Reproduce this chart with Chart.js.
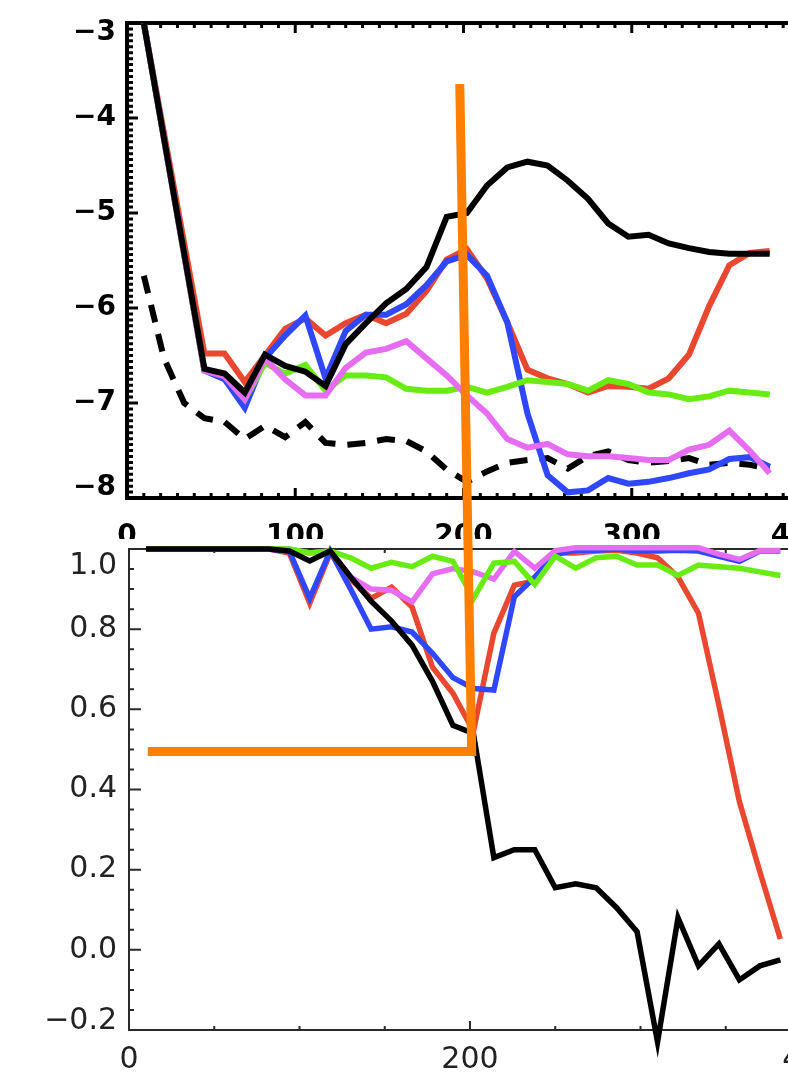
<!DOCTYPE html>
<html>
<head>
<meta charset="utf-8">
<script src="https://cdn.jsdelivr.net/npm/chart.js@4.4.1/dist/chart.umd.min.js"></script>
<style>
  html, body { margin: 0; padding: 0; background: #fff; overflow: hidden; }
  #wrap { position: relative; width: 788px; height: 1073px; overflow: hidden; }
  #topChart { position: absolute; left: 0; top: -10px; }
  #bottomChart { position: absolute; left: 0; top: 0; }
</style>
</head>
<body>
<div id="wrap">
  <canvas id="topChart" width="870" height="549"></canvas>
  <canvas id="bottomChart" width="881" height="1073"></canvas>
</div>
<script>
// sample positions (shared by both panels)
const xs = [10, 22, 34, 46, 58, 70, 82, 94, 106, 118, 130, 142, 154, 166, 178, 190,
            202, 214, 226, 238, 250, 262, 274, 286, 298, 310, 322, 334, 346, 358, 370, 382];

// upper panel
const topBlack   = [-3.0, null, null, -6.64, -6.69, -6.89, -6.49, -6.61, -6.67, -6.82, -6.38, -6.16, -5.95, -5.80, -5.57, -5.04,
                    -5.00, -4.71, -4.52, -4.46, -4.50, -4.66, -4.85, -5.11, -5.25, -5.23, -5.32, -5.37, -5.41, -5.43, -5.43, -5.43];
const topRed     = [-3.0, null, null, -6.48, -6.48, -6.78, -6.50, -6.22, -6.11, -6.29, -6.16, -6.07, -6.16, -6.06, -5.82, -5.49,
                    -5.38, -5.69, -6.15, -6.65, -6.74, -6.80, -6.89, -6.82, -6.83, -6.85, -6.74, -6.49, -5.98, -5.55, -5.42, -5.40];
const topBlue    = [-3.0, null, null, -6.66, -6.75, -7.05, -6.53, -6.29, -6.08, -6.74, -6.24, -6.07, -6.07, -5.96, -5.76, -5.51,
                    -5.44, -5.66, -6.15, -7.11, -7.76, -7.94, -7.92, -7.79, -7.85, -7.83, -7.79, -7.74, -7.70, -7.59, -7.57, -7.67];
const topMagenta = [-3.0, null, null, -6.66, -6.72, -6.96, -6.53, -6.75, -6.92, -6.92, -6.63, -6.47, -6.43, -6.35, -6.53, -6.71,
                    -6.92, -7.11, -7.38, -7.47, -7.43, -7.54, -7.56, -7.56, -7.58, -7.60, -7.60, -7.49, -7.44, -7.29, -7.50, -7.74];
const topGreen   = [-3.0, null, null, -6.66, -6.71, -6.96, -6.58, -6.69, -6.60, -6.87, -6.71, -6.71, -6.73, -6.85, -6.87, -6.87,
                    -6.83, -6.89, -6.83, -6.76, -6.78, -6.80, -6.87, -6.76, -6.80, -6.89, -6.91, -6.96, -6.93, -6.87, -6.89, -6.91];
const topDashed  = [-5.66, -6.53, -7.00, -7.16, -7.20, -7.38, -7.24, -7.36, -7.20, -7.42, -7.44, -7.42, -7.38, -7.40, -7.51, -7.70,
                    -7.83, -7.72, -7.63, -7.60, -7.58, -7.69, -7.56, -7.51, -7.60, -7.63, -7.61, -7.58, -7.65, -7.63, -7.65, -7.69];

// lower panel
const botBlack   = [1.0, 1.0, 1.0, 1.0, 1.0, 1.0, 1.0, 0.995, 0.97, 0.995, 0.93, 0.87, 0.82, 0.76, 0.67, 0.56,
                    0.54, 0.23, 0.25, 0.25, 0.155, 0.165, 0.155, 0.105, 0.045, -0.23, 0.08, -0.04, 0.015, -0.075, -0.04, -0.025];
const botRed     = [1.0, 1.0, 1.0, 1.0, 1.0, 1.0, 1.0, 0.99, 0.865, 0.99, 0.925, 0.877, 0.905, 0.855, 0.705, 0.64,
                    0.545, 0.79, 0.91, 0.92, 0.99, 0.99, 0.995, 0.997, 0.99, 0.978, 0.93, 0.84, 0.61, 0.37, 0.195, 0.027];
const botBlue    = [1.0, 1.0, 1.0, 1.0, 1.0, 1.0, 1.0, 0.995, 0.877, 0.995, 0.9, 0.8, 0.806, 0.793, 0.74, 0.679,
                    0.652, 0.648, 0.881, 0.93, 0.987, 0.997, 0.997, 1.0, 0.995, 0.995, 0.997, 0.995, 0.982, 0.969, 0.995, 0.995];
const botMagenta = [1.0, 1.0, 1.0, 1.0, 1.0, 1.0, 1.0, 1.0, 0.99, 0.995, 0.93, 0.9, 0.897, 0.868, 0.938, 0.951,
                    0.943, 0.925, 0.994, 0.952, 0.996, 1.003, 1.003, 1.003, 1.003, 1.003, 1.003, 1.003, 0.987, 0.974, 0.996, 0.996];
const botGreen   = [1.0, 1.0, 1.0, 1.0, 1.0, 1.0, 1.0, 1.0, 0.99, 0.995, 0.978, 0.952, 0.967, 0.956, 0.982, 0.969,
                    0.877, 0.965, 0.969, 0.912, 0.982, 0.952, 0.978, 0.982, 0.96, 0.96, 0.934, 0.96, 0.956, 0.952, 0.943, 0.934];

// orange marker drawn over both panels (lower panel units)
const markX = [11, 201, 194];
const markY = [0.495, 0.495, 2.16];

const topXTicks = [0, 100, 200, 300, 400];
const topYTicks = [-8, -7, -6, -5, -4, -3];
const botXTicks = [0, 200, 400];
const botYTicks = [-0.2, 0.0, 0.2, 0.4, 0.6, 0.8, 1.0];

const RED = '#e9472f', BLUE = '#2f48ff', MAGENTA = '#e66cf2', GREEN = '#68ec14', ORANGE = '#ff7f00';

function pts(ys, xv) {
  return (xv || xs).map((x, i) => ({ x: x, y: ys[i] }));
}

function line(label, ys, color, width, extra) {
  return Object.assign({
    label: label, data: pts(ys), borderColor: color, borderWidth: width,
    pointRadius: 0, tension: 0, fill: false, spanGaps: true
  }, extra || {});
}

function isMajor(v, step) {
  const r = v / step;
  return Math.abs(r - Math.round(r)) < 1e-6;
}

// box round the plot with inward major/minor ticks on every side
const boxTicks = {
  id: 'boxTicks',
  beforeDatasetsDraw(chart, args, o) {
    const ctx = chart.ctx, a = chart.chartArea;
    const x = chart.scales.x, y = chart.scales.y;
    ctx.save();
    ctx.strokeStyle = o.color;
    ctx.lineCap = 'butt';
    ctx.lineWidth = o.tickWidth;
    ctx.beginPath();
    const nx = Math.round((x.max - x.min) / o.xMinor);
    for (let i = 0; i <= nx; i++) {
      const v = x.min + i * o.xMinor;
      const px = x.getPixelForValue(v);
      const len = isMajor(v, o.xMajor) ? o.xMajorLen : o.xMinorLen;
      ctx.moveTo(px, a.bottom); ctx.lineTo(px, a.bottom - len);
      ctx.moveTo(px, a.top); ctx.lineTo(px, a.top + len);
    }
    const ny = Math.round((y.max - y.min) / o.yMinor);
    for (let i = 0; i <= ny; i++) {
      const v = y.min + i * o.yMinor;
      const py = y.getPixelForValue(v);
      const len = isMajor(v, o.yMajor) ? o.yMajorLen : o.yMinorLen;
      ctx.moveTo(a.left, py); ctx.lineTo(a.left + len, py);
      ctx.moveTo(a.right, py); ctx.lineTo(a.right - len, py);
    }
    ctx.stroke();
    ctx.lineWidth = o.boxWidth;
    ctx.strokeRect(a.left, a.top, a.right - a.left, a.bottom - a.top);
    ctx.restore();
  }
};

function minus(s) {
  return s.replace('-', '\u2212');
}

// upper panel (canvas shifted up 10px, its bottom edge cuts the x labels at 539)
new Chart(document.getElementById('topChart'), {
  type: 'line',
  data: {
    datasets: [
      line('black', topBlack, '#000', 6),
      line('magenta', topMagenta, MAGENTA, 6),
      line('green', topGreen, GREEN, 6),
      line('blue', topBlue, BLUE, 6),
      line('red', topRed, RED, 6),
      line('dashed', topDashed, '#000', 6, { borderDash: [18, 12] })
    ]
  },
  options: {
    responsive: false,
    animation: false,
    events: [],
    layout: { padding: { top: 33, right: 70, left: 0, bottom: 0 } },
    plugins: {
      legend: { display: false },
      tooltip: { enabled: false },
      boxTicks: {
        color: '#000', boxWidth: 4, tickWidth: 3,
        xMinor: 10, xMajor: 100, xMajorLen: 10, xMinorLen: 5,
        yMinor: 0.0625, yMajor: 1, yMajorLen: 11, yMinorLen: 6
      }
    },
    scales: {
      x: {
        type: 'linear', min: 0, max: 400,
        grid: { display: false, drawTicks: false },
        border: { display: false },
        afterFit: s => { s.height = 41; },
        afterBuildTicks: s => { s.ticks = topXTicks.map(v => ({ value: v })); },
        ticks: {
          autoSkip: false, maxRotation: 0, padding: 22, color: '#000',
          font: { family: 'DejaVu Sans', weight: 'bold', size: 28 }
        }
      },
      y: {
        type: 'linear', min: -8, max: -3,
        grid: { display: false, drawTicks: false },
        border: { display: false },
        afterFit: s => { s.width = 127; },
        afterBuildTicks: s => { s.ticks = topYTicks.map(v => ({ value: v })); },
        ticks: {
          padding: 11, color: '#000',
          font: { family: 'DejaVu Sans', weight: 'bold', size: 28, lineHeight: '20px' },
          callback: v => {
            const s = minus(String(v));
            if (v === -3) return ['', s];
            if (v === -8) return [s, ''];
            return s;
          }
        }
      }
    }
  },
  plugins: [boxTicks]
});

// lower panel, canvas covers the whole page so the marker can run up into the upper panel
new Chart(document.getElementById('bottomChart'), {
  type: 'line',
  data: {
    datasets: [
      {
        label: 'marker', data: pts(markY, markX), borderColor: ORANGE, borderWidth: 9,
        pointRadius: 0, tension: 0, fill: false, clip: false, borderJoinStyle: 'miter'
      },
      line('black', botBlack, '#000', 5.5, { clip: false }),
      line('green', botGreen, GREEN, 5.5, { clip: false }),
      line('magenta', botMagenta, MAGENTA, 5.5, { clip: false }),
      line('blue', botBlue, BLUE, 5.5, { clip: false }),
      line('red', botRed, RED, 5.5, { clip: false })
    ]
  },
  options: {
    responsive: false,
    animation: false,
    events: [],
    layout: { padding: { top: 549, right: 70, left: 0, bottom: 0 } },
    plugins: {
      legend: { display: false },
      tooltip: { enabled: false },
      boxTicks: {
        color: '#2a2a2a', boxWidth: 2, tickWidth: 2,
        xMinor: 50, xMajor: 200, xMajorLen: 9, xMinorLen: 4,
        yMinor: 0.05, yMajor: 0.2, yMajorLen: 12, yMinorLen: 5
      }
    },
    scales: {
      x: {
        type: 'linear', min: 0, max: 400,
        grid: { display: false, drawTicks: false },
        border: { display: false },
        afterFit: s => { s.height = 43; },
        afterBuildTicks: s => { s.ticks = botXTicks.map(v => ({ value: v })); },
        ticks: {
          autoSkip: false, maxRotation: 0, padding: 12, color: '#222',
          font: { family: 'DejaVu Sans', size: 30 }
        }
      },
      y: {
        type: 'linear', min: -0.2, max: 1.0,
        grid: { display: false, drawTicks: false },
        border: { display: false },
        afterFit: s => { s.width = 129; },
        afterBuildTicks: s => { s.ticks = botYTicks.map(v => ({ value: v })); },
        ticks: {
          padding: 12, color: '#222',
          font: { family: 'DejaVu Sans', size: 30, lineHeight: '17px' },
          callback: v => {
            const s = minus(v.toFixed(1));
            if (Math.abs(v - 1) < 1e-6) return ['', '', s];
            if (Math.abs(v + 0.2) < 1e-6) return [s, ''];
            return s;
          }
        }
      }
    }
  },
  plugins: [boxTicks]
});
</script>
</body>
</html>
